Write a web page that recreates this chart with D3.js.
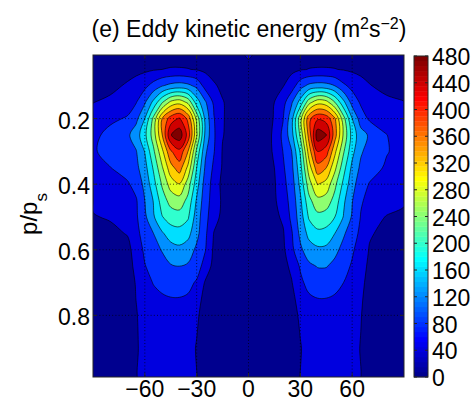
<!DOCTYPE html>
<html>
<head>
<meta charset="utf-8">
<script src="https://cdn.jsdelivr.net/npm/d3@7"></script>
<style>
  body { margin: 0; background: #fff; }
  svg { display: block; }
  text { font-family: "Liberation Sans", Arial, Helvetica, sans-serif; fill: #000; }
</style>
</head>
<body>
<svg id="chart" width="475" height="405"></svg>
<script>
// Grid of the zonal-mean eddy kinetic energy field (m^2 s^-2)
const latitudes = [-90, -80, -70, -65, -60, -55, -50, -45, -40, -35, -30, -25, -20, -15, -10, 0,
                   10, 15, 20, 25, 30, 35, 40, 45, 50, 55, 60, 65, 70, 80, 90];
const pressures = [0, 0.05, 0.1, 0.15, 0.2, 0.25, 0.3, 0.35, 0.4, 0.45, 0.5,
                   0.55, 0.6, 0.65, 0.7, 0.75, 0.8, 0.9, 1.0];

// one row per pressure level, one column per latitude
const ekeByLevel = [
  [15,15,18,20,22,24,25,26,26,25,24,22,20,20,22,46, 22,20,20,22,24,25,26,26,25,24,22,20,18,15,15],
  [18,20,26,30,33,37,40,42,42,41,38,33,28,26,25,30, 25,26,28,32,37,41,42,42,41,38,34,30,27,21,18],
  [22,30,45,55,70,95,118,132,138,130,110,65,44,33,28,24, 28,32,38,60,105,130,138,135,120,88,68,54,42,29,22],
  [39,48,62,78,115,170,235,290,305,270,180,125,72,42,30,22, 30,40,65,115,175,265,305,295,240,170,105,74,62,48,41],
  [58,72,84,110,160,250,360,420,445,390,270,148,82,43,28,20, 28,42,78,145,265,390,435,425,365,255,160,100,74,68,55],
  [70,92,113,140,190,260,358,478,505,425,285,150,85,42,27,20, 24,48,89,145,248,375,505,482,377,274,184,136,115,80.5,65],
  [75,95,108,118,162,232,310,395,430,360,231,127,82,37,26,20, 27,45,81,120,205,340,440,420,330,245,172,125,105,82,68],
  [68,79,98,110,145,205,275,345,380,310,200,114,72,36,25,20, 25,40,74,110,185,300,385,360,290,215,150,112,95,75,65],
  [62,68,75,95,130,185,245,298,318,260,178,100,66,28,23,19, 23,36,68,100,170,262,322,305,250,190,135,97,78,65,55],
  [45,55,68,76,120,162,220,255,264,228,155,95,64,33,24,19, 23,34,62,93,152,228,268,262,225,168,122,84,70,56,43],
  [38,43,60,74,112,155,198,218,222,205,140,92,56,30,23,18, 22,31,46,90,140,205,228,222,200,158,115,78,55,38,35],
  [28,32,42,70,95,120,155,180,185,172,132,88,38,26,21,17, 21,27,36,76,130,172,190,186,160,125,100,70,43,32,28],
  [25,28,30,55,88,108,122,142,150,140,112,82,32,24,20,17, 20,24,32,70,112,142,152,150,130,108,86,60,38,28,25],
  [22,25,28,48,78,95,108,117,120,115,100,62,28,23,19,16, 19,23,28,48,85,112,122,122,110,95,75,52,34,26,23],
  [20,23,27,42,65,82,90,96,98,92,75,36,22,20,18,16, 18,21,24,38,70,95,100,99,92,80,62,46,32,24,21],
  [19,22,26,40.5,58,68,75,78,78,74,52,30,21,19,17,15, 17,19,22,32,52,72,79,79,75,66,55,43,30,23,20],
  [18,21,26,38,52,60,65,67,66,62,45,26,20,18,16,15, 16,18,21,28,45,60,66,67,64,58,50,41,29,22,19],
  [17,20,26,37,49,55,58,59,58,52,38,25,19,17,16,15, 16,17,19,25,38,53,58,59,57,53,47,39,28,21,18],
  [16,19,25,37,48,53,56,57,56,50,41,26,19,17,15,15, 15,17,19,26,41,50,55,57,55,52,46,39,28,20,17]
];

const contourLevels = [0, 40, 80, 120, 160, 200, 240, 280, 320, 360, 400, 440, 480];
const colorbarTicks = [0, 40, 80, 120, 160, 200, 240, 280, 320, 360, 400, 440, 480];
const latTicks = [-60, -30, 0, 30, 60];
const pTicks = [0.2, 0.4, 0.6, 0.8];

const svg = d3.select("#chart");
const plot = { left: 93, right: 404, top: 55, bottom: 377 };
const cbar = { left: 414, right: 428, top: 56, bottom: 377 };
const cmax = 480;

const x = d3.scaleLinear().domain([-90, 90]).range([plot.left, plot.right]);
const y = d3.scaleLinear().domain([0.006, 0.988]).range([plot.top, plot.bottom]);

// MATLAB-style jet colormap with 64 entries (index 1..64)
function jet(i) {
  const r = i <= 24 ? 0 : i <= 40 ? (i - 24) / 16 : i <= 56 ? 1 : 1 - (i - 56) / 16;
  const g = i <= 8 ? 0 : i <= 24 ? (i - 8) / 16 : i <= 40 ? 1 : i <= 56 ? 1 - (i - 40) / 16 : 0;
  const b = i <= 8 ? 0.5 + i / 16 : i <= 24 ? 1 : i <= 40 ? 1 - (i - 24) / 16 : 0;
  return d3.rgb(r * 255, g * 255, b * 255).formatHex();
}
const levelColor = v => jet(Math.min(64, Math.floor(v / cmax * 64) + 1));

// grid-index space -> data space (samples sit at cell centres)
const nx = latitudes.length, ny = pressures.length;
const gLat = d3.scaleLinear().domain(latitudes.map((_, i) => i + 0.5)).range(latitudes).clamp(true);
const gP = d3.scaleLinear().domain(pressures.map((_, j) => j + 0.5)).range(pressures).clamp(true);

const values = ekeByLevel.flat();
const bands = d3.contours().size([nx, ny]).thresholds(contourLevels)(values);

const smooth = d3.line().curve(d3.curveCatmullRomClosed.alpha(0.5));
function ringPath(ring) {
  const pts = [];
  for (const [gx, gy] of ring) {
    const p = [x(gLat(gx)), y(gP(gy))];
    const last = pts[pts.length - 1];
    if (!last || Math.abs(last[0] - p[0]) > 0.01 || Math.abs(last[1] - p[1]) > 0.01) pts.push(p);
  }
  if (pts.length > 1) {
    const a = pts[0], b = pts[pts.length - 1];
    if (Math.abs(a[0] - b[0]) < 0.01 && Math.abs(a[1] - b[1]) < 0.01) pts.pop();
  }
  return pts.length > 2 ? smooth(pts) : "";
}
const bandPath = mp => mp.coordinates.map(poly => poly.map(ringPath).join("")).join("");

svg.append("clipPath").attr("id", "plot-clip")
  .append("rect")
  .attr("x", plot.left).attr("y", plot.top)
  .attr("width", plot.right - plot.left).attr("height", plot.bottom - plot.top);

const field = svg.append("g").attr("clip-path", "url(#plot-clip)");

field.append("rect")
  .attr("x", plot.left).attr("y", plot.top)
  .attr("width", plot.right - plot.left).attr("height", plot.bottom - plot.top)
  .attr("fill", levelColor(0));

field.selectAll("path.band")
  .data(bands.filter(b => b.value > 0))
  .join("path")
  .attr("class", "band")
  .attr("d", bandPath)
  .attr("fill", d => levelColor(d.value))
  .attr("fill-rule", "evenodd")
  .attr("stroke", "#000")
  .attr("stroke-width", 0.6)
  .attr("stroke-linejoin", "round");

// dotted grid
const grid = field.append("g")
  .attr("stroke", "#000").attr("stroke-width", 0.7).attr("stroke-dasharray", "1,2.2");
grid.selectAll("line.gx").data(latTicks).join("line")
  .attr("x1", d => x(d)).attr("x2", d => x(d))
  .attr("y1", plot.top).attr("y2", plot.bottom);
grid.selectAll("line.gy").data(pTicks).join("line")
  .attr("x1", plot.left).attr("x2", plot.right)
  .attr("y1", d => y(d)).attr("y2", d => y(d));

// axes box and inward ticks
const axes = svg.append("g").attr("stroke", "#262626").attr("fill", "none");
axes.append("rect")
  .attr("x", plot.left).attr("y", plot.top)
  .attr("width", plot.right - plot.left).attr("height", plot.bottom - plot.top)
  .attr("stroke-width", 1);
latTicks.forEach(t => {
  axes.append("line").attr("x1", x(t)).attr("x2", x(t)).attr("y1", plot.bottom).attr("y2", plot.bottom - 4);
  axes.append("line").attr("x1", x(t)).attr("x2", x(t)).attr("y1", plot.top).attr("y2", plot.top + 4);
});
pTicks.forEach(t => {
  axes.append("line").attr("x1", plot.left).attr("x2", plot.left + 4).attr("y1", y(t)).attr("y2", y(t));
  axes.append("line").attr("x1", plot.right).attr("x2", plot.right - 4).attr("y1", y(t)).attr("y2", y(t));
});

// tick labels
const fmtLat = d => (d < 0 ? "\u2212" + Math.abs(d) : String(d));
svg.append("g").selectAll("text").data(latTicks).join("text")
  .attr("x", d => x(d)).attr("y", 397)
  .attr("text-anchor", "middle").attr("font-size", 23)
  .text(fmtLat);
svg.append("g").selectAll("text").data(pTicks).join("text")
  .attr("x", 90).attr("y", d => y(d) + 10)
  .attr("text-anchor", "end").attr("font-size", 23)
  .text(d => d.toFixed(1));

// axis label p/p_s
const ylab = svg.append("text")
  .attr("transform", "translate(37,214) rotate(-90)")
  .attr("text-anchor", "middle").attr("font-size", 24);
ylab.append("tspan").text("p/p");
ylab.append("tspan").attr("baseline-shift", "sub").attr("font-size", 17).text("s");

// title
const title = svg.append("text")
  .attr("x", 249).attr("y", 37)
  .attr("text-anchor", "middle").attr("font-size", 23);
title.append("tspan").text("(e) Eddy kinetic energy (m");
title.append("tspan").attr("baseline-shift", "super").attr("font-size", 16).text("2");
title.append("tspan").text("s");
title.append("tspan").attr("baseline-shift", "super").attr("font-size", 16).text("\u22122");
title.append("tspan").text(")");

// colorbar
const cy = d3.scaleLinear().domain([0, cmax]).range([cbar.bottom, cbar.top]);
const steps = d3.range(1, 65);
svg.append("g").selectAll("rect").data(steps).join("rect")
  .attr("x", cbar.left)
  .attr("y", i => cy(i * cmax / 64))
  .attr("width", cbar.right - cbar.left)
  .attr("height", i => cy((i - 1) * cmax / 64) - cy(i * cmax / 64) + 0.3)
  .attr("fill", i => jet(i));
const cb = svg.append("g").attr("stroke", "#262626").attr("fill", "none");
cb.append("rect")
  .attr("x", cbar.left).attr("y", cbar.top)
  .attr("width", cbar.right - cbar.left).attr("height", cbar.bottom - cbar.top);
colorbarTicks.forEach(t => {
  cb.append("line").attr("x1", cbar.left).attr("x2", cbar.left + 3).attr("y1", cy(t)).attr("y2", cy(t));
  cb.append("line").attr("x1", cbar.right).attr("x2", cbar.right - 3).attr("y1", cy(t)).attr("y2", cy(t));
});
svg.append("g").selectAll("text").data(colorbarTicks).join("text")
  .attr("x", 432).attr("y", d => cy(d) + 9)
  .attr("font-size", 23)
  .text(d => d);
</script>
</body>
</html>
